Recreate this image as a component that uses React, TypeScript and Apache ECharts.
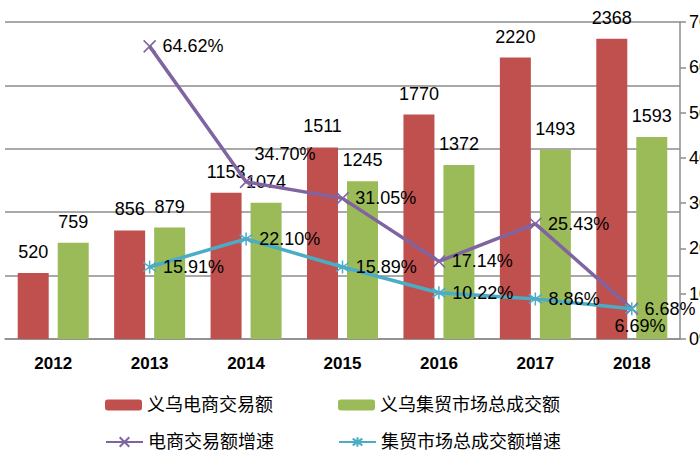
import React, { useEffect, useRef } from "react";
import * as echarts from "echarts";

const years = ["2012", "2013", "2014", "2015", "2016", "2017", "2018"];
const ecommerceVolume = [520, 856, 1153, 1511, 1770, 2220, 2368];
const marketVolume = [759, 879, 1074, 1245, 1372, 1493, 1593];
const ecommerceGrowth: (number | null)[] = [null, 64.62, 34.7, 31.05, 17.14, 25.43, 6.68];
const marketGrowth: (number | null)[] = [null, 15.91, 22.1, 15.89, 10.22, 8.86, 6.69];

const names = ["义乌电商交易额", "义乌集贸市场总成交额", "电商交易额增速", "集贸市场总成交额增速"];

const FONT = "'Liberation Sans', 'Noto Sans CJK SC', sans-serif";
const CROSS = "path://M0,0L10,10M10,0L0,10";
const STAR = "path://M5,0L5,10M0,1.5L10,8.5M10,1.5L0,8.5";

export default function App() {
  const ref = useRef<HTMLDivElement>(null);
  useEffect(() => {
    if (!ref.current) return;
    const chart = echarts.init(ref.current, null, { renderer: "svg" });
    const pct = (p: any) => Number(p.value).toFixed(2) + "%";
    const purpleData = ecommerceGrowth.map((v, i) =>
      i === 2
        ? { value: v, label: { show: true, position: "top", distance: 12, offset: [39, 0] } }
        : v
    );
    const cyanData = marketGrowth.map((v, i) =>
      i === 6 ? { value: v, label: { position: [-10, 16] } } : v
    );
    const legendBase = {
      padding: 0,
      itemWidth: 37,
      itemHeight: 11,
      itemGap: 0,
      textStyle: { fontSize: 18, color: "#000", fontFamily: FONT },
    };
    chart.setOption({
      animation: false,
      textStyle: { fontFamily: FONT },
      grid: { left: 5, right: 20, top: 22, bottom: 131, outerBoundsMode: "none", containLabel: false },
      legend: [
        { ...legendBase, data: [names[0]], left: 105, top: 396 },
        { ...legendBase, data: [names[1]], left: 338, top: 396 },
        { ...legendBase, data: [names[2]], left: 105, top: 433, itemHeight: 12 },
        { ...legendBase, data: [names[3]], left: 338, top: 433, itemHeight: 12 },
      ],
      xAxis: {
        type: "category",
        data: years,
        axisLine: { lineStyle: { color: "#8c8c8c", width: 1.5 } },
        axisTick: { show: false },
        axisLabel: { fontSize: 17, fontWeight: "bold", color: "#000", margin: 16 },
      },
      yAxis: [
        {
          type: "value",
          min: 0,
          max: 2500,
          interval: 500,
          axisLabel: { show: false },
          axisLine: { show: false },
          axisTick: { show: false },
          splitLine: { lineStyle: { color: "#8c8c8c", width: 1.5 } },
        },
        {
          type: "value",
          min: 0,
          max: 70,
          interval: 10,
          position: "right",
          axisLine: { show: true, lineStyle: { color: "#8c8c8c", width: 1.5 } },
          axisTick: { show: true, length: 6, lineStyle: { color: "#8c8c8c", width: 1.5 } },
          axisLabel: { formatter: "{value}%", fontSize: 18, color: "#000", margin: 9 },
          splitLine: { show: false },
        },
      ],
      series: [
        {
          name: names[0],
          type: "bar",
          data: ecommerceVolume,
          barWidth: 31,
          barGap: "29%",
          itemStyle: { color: "#C0504D" },
          label: { show: true, position: "top", distance: 12, fontSize: 18, color: "#000" },
        },
        {
          name: names[1],
          type: "bar",
          data: marketVolume,
          barWidth: 31,
          barGap: "29%",
          itemStyle: { color: "#9BBB59" },
          label: { show: true, position: "top", distance: 12, fontSize: 18, color: "#000" },
        },
        {
          name: names[2],
          type: "line",
          yAxisIndex: 1,
          data: purpleData,
          symbol: CROSS,
          symbolSize: 12,
          showAllSymbol: true,
          lineStyle: { color: "#8064A2", width: 3.5 },
          itemStyle: { color: "#8064A2", borderColor: "#8064A2", borderWidth: 1.5 },
          label: { show: true, position: "right", distance: 6, fontSize: 18, color: "#000", formatter: pct },
          z: 3,
        },
        {
          name: names[3],
          type: "line",
          yAxisIndex: 1,
          data: cyanData,
          symbol: STAR,
          symbolSize: 13,
          showAllSymbol: true,
          lineStyle: { color: "#4BACC6", width: 3.5 },
          itemStyle: { color: "#4BACC6", borderColor: "#4BACC6", borderWidth: 1.5 },
          label: { show: true, position: "right", distance: 6, fontSize: 18, color: "#000", formatter: pct },
          z: 4,
        },
      ],
    });
    return () => chart.dispose();
  }, []);
  return (
    <div
      ref={ref}
      style={{ position: "absolute", left: 0, top: 0, width: 700, height: 470, background: "#fff" }}
    />
  );
}
